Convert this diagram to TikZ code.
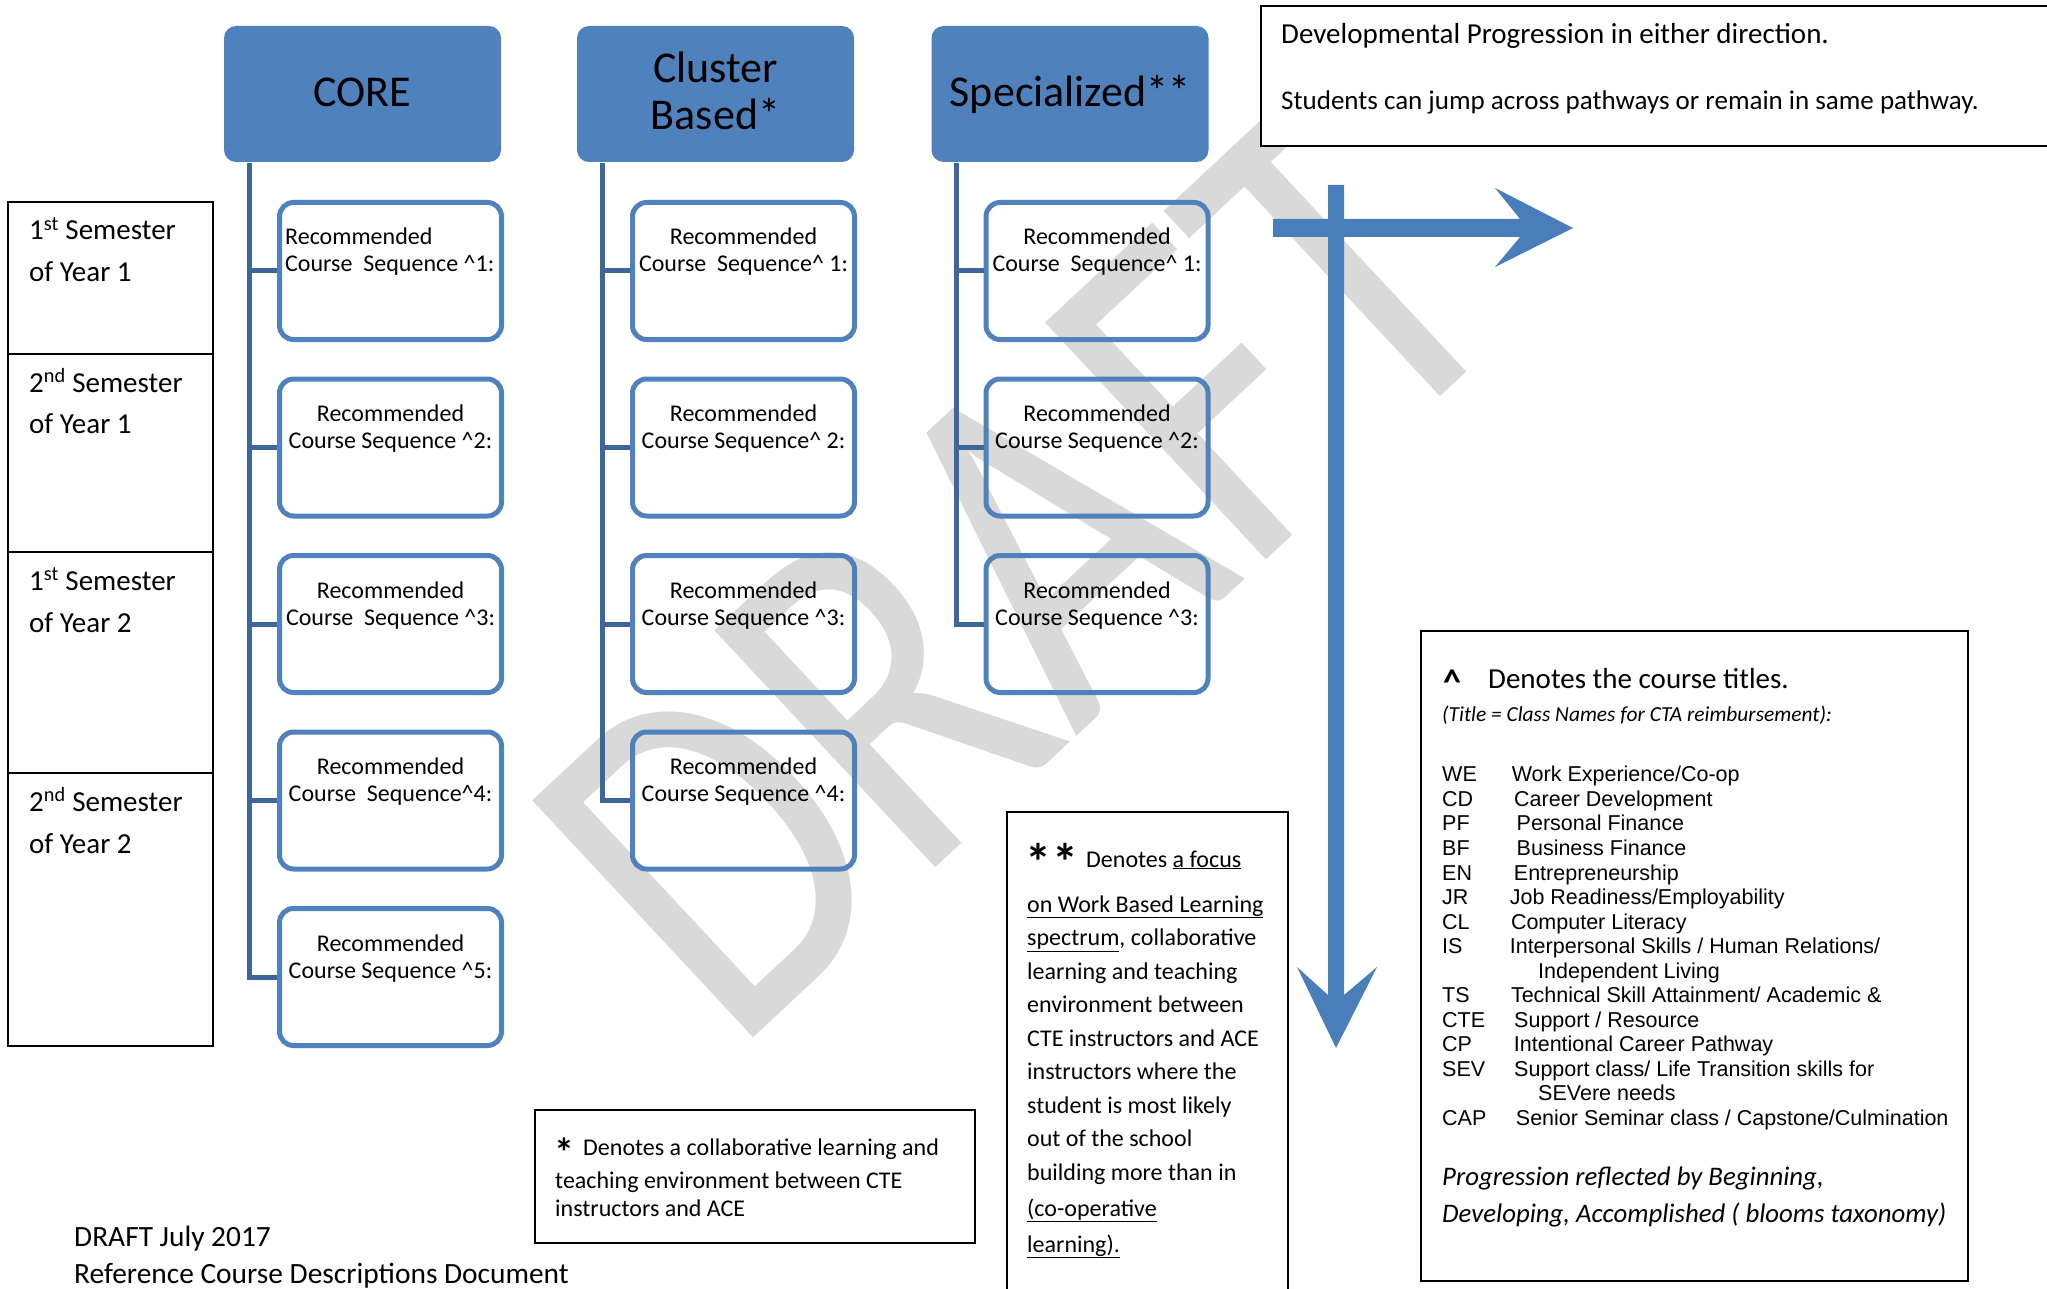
\documentclass[tikz,border=0pt]{standalone}
\usepackage{fontspec}
\setmainfont{Carlito}
\newfontfamily\arialf{Liberation Sans}
\definecolor{hblue}{RGB}{79,129,189}
\definecolor{tblue}{RGB}{62,102,155}
\definecolor{ablue}{RGB}{74,126,187}
\definecolor{wmgray}{RGB}{217,217,217}
\newcommand\fs[1]{\fontsize{#1}{#1}\selectfont}
\newcommand\crt{\textasciicircum}
\tikzset{
  tx/.style={inner sep=0pt, anchor=base west},
  hdr/.style={fill=hblue, rounded corners=12pt, minimum width=277pt, minimum height=136pt, inner sep=0pt},
  hdrtx/.style={inner sep=0pt, anchor=base, font=\fs{44}},
  rec/.style={draw=hblue, line width=5pt, rounded corners=14pt, minimum width=222pt, minimum height=137pt, inner sep=0pt},
  rtx/.style={inner sep=0pt, font=\fs{24}},
  trunk/.style={draw=tblue, line width=5pt},
  semrow/.style={draw=black, line width=1.5pt, minimum width=205pt, inner sep=0pt},
  semtx/.style={tx, font=\fs{29}},
  framebox/.style={draw=black, line width=2pt, fill=white, inner sep=0pt},
  legtx/.style={tx, font=\arialf\fs{21.5}},
  arrowfill/.style={fill=ablue},
}
% rec box: #1 name, #2 x, #3 y, #4 second line
\newcommand\recbx[4]{%
  \node[rec] (#1) at (#2,#3) {};
  \node[rtx, anchor=base] (#1a) at ([yshift=26pt]#1.center) {Recommended};
  \node[rtx, anchor=base] (#1b) at ([yshift=-1pt]#1.center) {#4};
}
\newcommand\lgl[5]{%
  \node[legtx] (#1a) at (1442,#2) {#3};
  \node[legtx] (#1b) at (#4,#2) {#5};
}
\begin{document}
\begin{tikzpicture}[x=1pt,y=-1pt]
\useasboundingbox (0,0) rectangle (2047,1289);

% watermark
\node[rotate=43, xscale=0.8, inner sep=0pt, anchor=base west, text=wmgray, font=\fs{505}] (wm) at (733,1057) {DRAFT};

% semester table
\node[semrow, minimum height=152pt] (r1) at (110.5,278) {};
\node[semrow, minimum height=198pt] (r2) at (110.5,453) {};
\node[semrow, minimum height=221pt] (r3) at (110.5,662.5) {};
\node[semrow, minimum height=273pt] (r4) at (110.5,909.5) {};
\node[semtx] (r1a) at (29,240) {1\textsuperscript{st} Semester};
\node[semtx] (r1b) at (29,282) {of Year 1};
\node[semtx] (r2a) at (29,392) {2\textsuperscript{nd} Semester};
\node[semtx] (r2b) at (29,433) {of Year 1};
\node[semtx] (r3a) at (29,590) {1\textsuperscript{st} Semester};
\node[semtx] (r3b) at (29,632) {of Year 2};
\node[semtx] (r4a) at (29,811) {2\textsuperscript{nd} Semester};
\node[semtx] (r4b) at (29,853) {of Year 2};

% headers
\node[hdr] (core) at (362.5,94) {};
\node[hdrtx] (coret) at ([yshift=-13pt]core.center) {CORE};
\node[hdr] (clus) at (715.5,94) {};
\node[hdrtx] (clusa) at ([yshift=11pt]clus.center) {Cluster};
\node[hdrtx] (clusb) at ([yshift=-36pt]clus.center) {Based*};
\node[hdr] (spec) at (1070,94) {};
\node[hdrtx] (spect) at ([yshift=-13pt]spec.center) {Specialized**};

% CORE column
\node[rec] (c1) at (390.5,271) {};
\node[tx, font=\fs{24}] (c1a) at (285,245) {Recommended};
\node[tx, font=\fs{24}] (c1b) at (285,272) {Course\ \ Sequence \crt1:};
\recbx{c2}{390.5}{447.5}{Course Sequence \crt2:}
\recbx{c3}{390.5}{624}{Course\ \ Sequence \crt3:}
\recbx{c4}{390.5}{800.5}{Course\ \ Sequence\crt4:}
\recbx{c5}{390.5}{977}{Course Sequence \crt5:}
\coordinate (coreT) at (249,163);
\draw[trunk] (coreT) |- (c5.west);
\foreach \i in {1,...,4} \draw[trunk] (coreT |- c\i.west) -- (c\i.west);

% Cluster column
\recbx{k1}{743.5}{271}{Course\ \ Sequence\crt\ 1:}
\recbx{k2}{743.5}{447.5}{Course Sequence\crt\ 2:}
\recbx{k3}{743.5}{624}{Course Sequence \crt3:}
\recbx{k4}{743.5}{800.5}{Course Sequence \crt4:}
\coordinate (clusT) at (602,163);
\draw[trunk] (clusT) |- (k4.west);
\foreach \i in {1,...,3} \draw[trunk] (clusT |- k\i.west) -- (k\i.west);

% Specialized column
\recbx{s1}{1097}{271}{Course\ \ Sequence\crt\ 1:}
\recbx{s2}{1097}{447.5}{Course Sequence \crt2:}
\recbx{s3}{1097}{624}{Course Sequence \crt3:}
\coordinate (specT) at (956,163);
\draw[trunk] (specT) |- (s3.west);
\foreach \i in {1,2} \draw[trunk] (specT |- s\i.west) -- (s\i.west);

% top right note
\node[framebox, minimum width=839pt, minimum height=140pt] (tr) at (1680.5,76) {};
\node[tx, font=\fs{29}] (tra) at (1281,44) {Developmental Progression in either direction.};
\node[tx, font=\fs{27}] (trb) at (1281,110) {Students can jump across pathways or remain in same pathway.};

% arrows
\fill[arrowfill] (1273,219) -- (1520,219) -- (1495,188) -- (1573,228) -- (1495,267) -- (1520,237) -- (1273,237) -- cycle;
\fill[arrowfill] (1328,185) -- (1344,185) -- (1344,995) -- (1377,967) -- (1336,1048) -- (1297,967) -- (1328,995) -- cycle;

% ** box
\node[framebox, minimum width=281pt, minimum height=508pt] (dbl) at (1147.5,1066) {};
\node[tx, font=\bfseries\fs{52}] (dbls) at (1025,880) {*\hspace{1pt}*};
\node[tx, font=\fs{24}] (d0) at (1086,867) {Denotes \underline{a focus}};
\node[tx, font=\fs{24}] (d1) at (1027,912) {\underline{on Work Based Learning}};
\node[tx, font=\fs{24}] (d2) at (1027,945.5) {\underline{spectrum}, collaborative};
\node[tx, font=\fs{24}] (d3) at (1027,979) {learning and teaching};
\node[tx, font=\fs{24}] (d4) at (1027,1012.5) {environment between};
\node[tx, font=\fs{24}] (d5) at (1027,1046) {CTE instructors and ACE};
\node[tx, font=\fs{24}] (d6) at (1027,1079.5) {instructors where the};
\node[tx, font=\fs{24}] (d7) at (1027,1113) {student is most likely};
\node[tx, font=\fs{24}] (d8) at (1027,1146.5) {out of the school};
\node[tx, font=\fs{24}] (d9) at (1027,1180) {building more than in};
\node[tx, font=\fs{24}] (d10) at (1027,1216) {\underline{(co-operative}};
\node[tx, font=\fs{24}] (d11) at (1027,1252) {\underline{learning).}};

% * box
\node[framebox, minimum width=440pt, minimum height=133pt] (sgl) at (755,1176.5) {};
\node[tx, font=\bfseries\fs{40}] (sgls) at (554,1166) {*};
\node[tx, font=\fs{24}] (g1) at (583,1155) {Denotes a collaborative learning and};
\node[tx, font=\fs{24}] (g2) at (555,1188) {teaching environment between CTE};
\node[tx, font=\fs{24}] (g3) at (555,1216) {instructors and ACE};

% bottom left
\node[tx, font=\fs{29.4}] (bl1) at (74,1246) {DRAFT July 2017};
\node[tx, font=\fs{29.4}] (bl2) at (74,1283) {Reference Course Descriptions Document};

% legend
\node[framebox, minimum width=547pt, minimum height=650pt] (leg) at (1694.5,956) {};
\node[tx, font=\bfseries\fs{36}] (lgc) at (1443,694) {\crt};
\node[tx, font=\fs{29}] (lgh) at (1488,688) {Denotes the course titles.};
\node[tx, font=\itshape\fs{21.4}] (lgs) at (1442,721) {(Title = Class Names for CTA reimbursement):};
\lgl{we}{781.9}{WE}{1511.6}{Work Experience/Co-op}
\lgl{cd}{806.4}{CD}{1514}{Career Development}
\lgl{pf}{830.9}{PF}{1516.5}{Personal Finance}
\lgl{bf}{855.5}{BF}{1516.5}{Business Finance}
\lgl{en}{880.0}{EN}{1513.7}{Entrepreneurship}
\lgl{jr}{904.5}{JR}{1509.6}{Job Readiness/Employability}
\lgl{cl}{929.1}{CL}{1510.8}{Computer Literacy}
\lgl{is}{953.6}{IS}{1509.6}{Interpersonal Skills / Human Relations/}
\node[legtx] (isc) at (1538,978.1) {Independent Living};
\lgl{ts}{1002.7}{TS}{1510.8}{Technical Skill Attainment/ Academic \&}
\lgl{cte}{1027.2}{CTE}{1514}{Support / Resource}
\lgl{cp}{1051.7}{CP}{1513.7}{Intentional Career Pathway}
\lgl{sev}{1076.3}{SEV}{1514}{Support class/ Life Transition skills for}
\node[legtx] (sevc) at (1538,1100.8) {SEVere needs};
\lgl{cap}{1125.3}{CAP}{1515.7}{Senior Seminar class / Capstone/Culmination}
\node[tx, font=\itshape\fs{26.8}] (lgp1) at (1442,1185.6) {Progression reflected by Beginning,};
\node[tx, font=\itshape\fs{26.8}] (lgp2) at (1442,1222) {Developing, Accomplished ( blooms taxonomy)};
\end{tikzpicture}
\end{document}
